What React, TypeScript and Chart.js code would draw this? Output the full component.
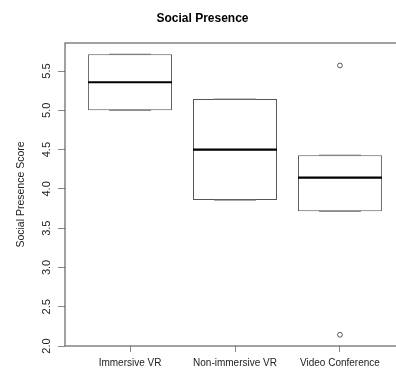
import React, { useEffect, useRef } from 'react';
import { Chart, registerables } from 'chart.js';

Chart.register(...registerables);

// ---- data ----
const categories = ['Immersive VR', 'Non-immersive VR', 'Video Conference'];
const whiskerLow = [5.0, 3.857, 3.714];
const q1 = [5.0, 3.857, 3.714];
const medians = [5.357, 4.5, 4.143];
const q3 = [5.714, 5.143, 4.429];
const whiskerHigh = [5.714, 5.143, 4.429];
const outliers: number[][] = [[], [], [5.571, 2.143]];
const yTickValues = [2.0, 2.5, 3.0, 3.5, 4.0, 4.5, 5.0, 5.5];
const chartTitle = 'Social Presence';
const yTitle = 'Social Presence Score';

// ---- style constants ----
const FONT = '"Liberation Sans", Arial, Helvetica, sans-serif';
const BOX_HALF = 0.4;
const CAP_HALF = 0.2;

const allValues = [...whiskerLow, ...whiskerHigh, ...outliers.flat()];
const dataMin = Math.min(...allValues);
const dataMax = Math.max(...allValues);
const yExt = (dataMax - dataMin) * 0.04;
const yMin = dataMin - yExt;
const yMax = dataMax + yExt;
const xExt = categories.length * 0.04;
const xMin = 0.5 - xExt;
const xMax = categories.length + 0.5 + xExt;

const hSegments = (ys: number[], half: number) =>
  categories.flatMap((_, i) => [
    { x: i + 1 - half, y: ys[i] },
    { x: i + 1 + half, y: ys[i] },
    { x: i + 1, y: null as any },
  ]);

const stems = categories.flatMap((_, i) => [
  { x: i + 1, y: q3[i] },
  { x: i + 1, y: whiskerHigh[i] },
  { x: i + 1, y: null as any },
  { x: i + 1, y: q1[i] },
  { x: i + 1, y: whiskerLow[i] },
  { x: i + 1, y: null as any },
]);

const outlierPoints = outliers.flatMap((vals, i) => vals.map((v) => ({ x: i + 1, y: v })));

const framePlugin = {
  id: 'frame',
  afterDatasetsDraw(chart: any) {
    const { ctx, chartArea: a } = chart;
    ctx.save();
    ctx.strokeStyle = '#444';
    ctx.lineWidth = 1;
    ctx.strokeRect(Math.round(a.left), Math.round(a.top), Math.round(a.right - a.left), Math.round(a.bottom - a.top));
    ctx.restore();
  },
};

export default function App() {
  const ref = useRef<HTMLCanvasElement | null>(null);

  useEffect(() => {
    if (!ref.current) return;
    const chart = new Chart(ref.current, {
      type: 'bar',
      data: {
        datasets: [
          {
            type: 'bar',
            data: categories.map((_, i) => ({ x: i + 1, y: [q1[i], q3[i]] })) as any,
            backgroundColor: '#ffffff',
            borderColor: '#555',
            borderWidth: 1,
            borderSkipped: false,
            barPercentage: BOX_HALF * 2,
            categoryPercentage: 1,
            order: 4,
          } as any,
          {
            type: 'line',
            data: stems as any,
            borderColor: '#555',
            borderWidth: 1,
            borderDash: [4, 3],
            pointRadius: 0,
            spanGaps: false,
            order: 3,
          } as any,
          {
            type: 'line',
            data: [...hSegments(whiskerLow, CAP_HALF), ...hSegments(whiskerHigh, CAP_HALF)] as any,
            borderColor: '#777',
            borderWidth: 1,
            pointRadius: 0,
            spanGaps: false,
            order: 2,
          } as any,
          {
            type: 'line',
            data: hSegments(medians, BOX_HALF) as any,
            borderColor: '#000',
            borderWidth: 2.2,
            pointRadius: 0,
            spanGaps: false,
            order: 1,
          } as any,
          {
            type: 'line',
            data: outlierPoints as any,
            showLine: false,
            pointRadius: 2.4,
            pointBorderWidth: 1,
            pointBorderColor: '#555',
            pointBackgroundColor: '#fff',
            order: 0,
          } as any,
        ],
      },
      options: {
        responsive: false,
        animation: false,
        events: [],
        layout: { padding: { left: 0, right: 65, top: 0, bottom: 0 } },
        plugins: {
          legend: { display: false },
          tooltip: { enabled: false },
          title: {
            display: true,
            text: chartTitle,
            color: '#000',
            font: { family: FONT, size: 12, weight: 'bold' },
            padding: { top: 11, bottom: 17.6 },
          },
        },
        scales: {
          x: {
            type: 'linear',
            min: xMin,
            max: xMax,
            offset: false,
            afterBuildTicks: (s: any) => {
              s.ticks = categories.map((_, i) => ({ value: i + 1 }));
            },
            afterFit: (s: any) => {
              s.height = 25;
            },
            ticks: {
              autoSkip: false,
              maxRotation: 0,
              minRotation: 0,
              padding: 5,
              color: '#222',
              font: { family: FONT, size: 10 },
              callback: (v: any) => categories[Math.round(Number(v)) - 1] ?? '',
            },
            grid: { drawOnChartArea: false, drawTicks: true, tickLength: 6, color: '#888', offset: false },
            border: { display: false },
          } as any,
          y: {
            type: 'linear',
            min: yMin,
            max: yMax,
            afterBuildTicks: (s: any) => {
              s.ticks = yTickValues.map((v) => ({ value: v }));
            },
            afterFit: (s: any) => {
              s.width = 65;
            },
            ticks: {
              minRotation: 90,
              maxRotation: 90,
              crossAlign: 'center',
              padding: 3,
              color: '#222',
              font: { family: FONT, size: 11 },
              callback: (v: any) => Number(v).toFixed(1),
            },
            grid: { drawOnChartArea: false, drawTicks: true, tickLength: 7, color: '#888' },
            border: { display: false },
            title: {
              display: true,
              text: yTitle,
              color: '#222',
              font: { family: FONT, size: 10.5 },
              padding: { top: 15, bottom: 0 },
            },
          } as any,
        },
      },
      plugins: [framePlugin],
    });
    return () => chart.destroy();
  }, []);

  return (
    <div style={{ position: 'absolute', left: 0, top: 0, width: 396, height: 371, overflow: 'hidden', background: '#fff' }}>
      <canvas ref={ref} width={470} height={371} style={{ width: 470, height: 371, display: 'block' }} />
    </div>
  );
}
